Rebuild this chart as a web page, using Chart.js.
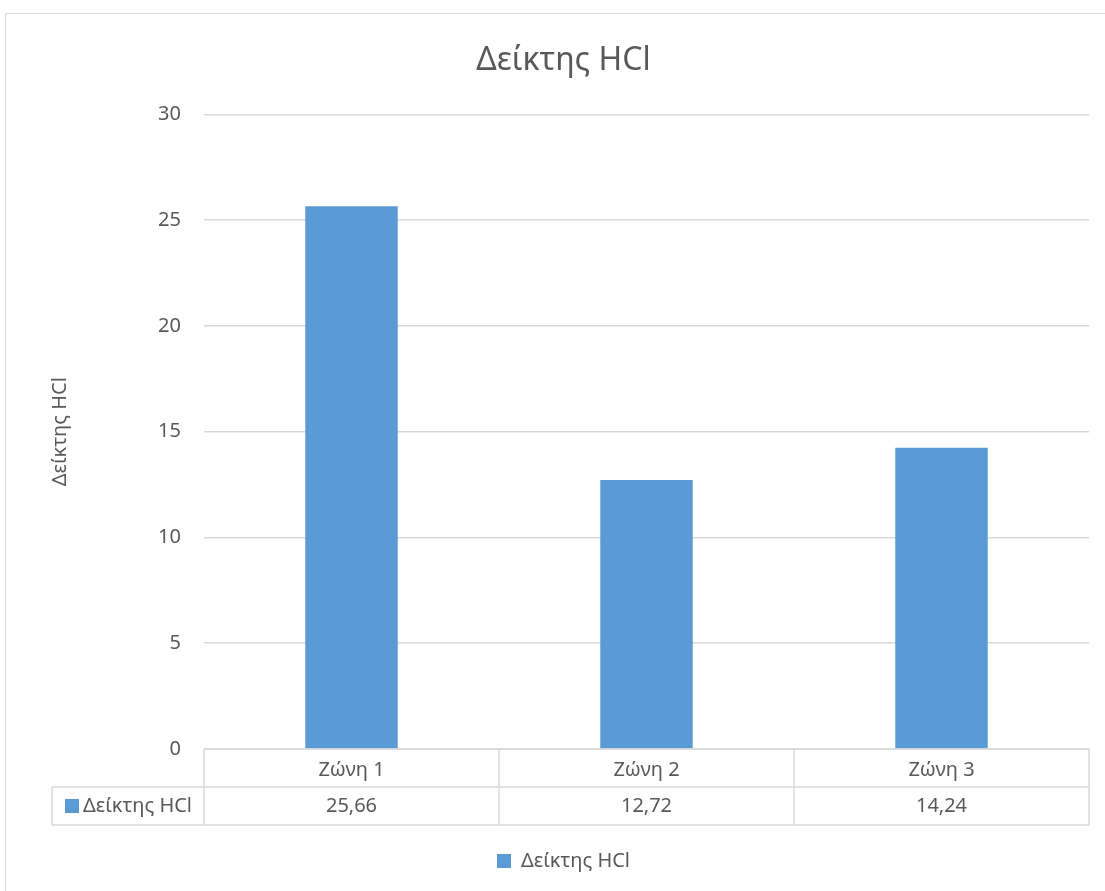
<!DOCTYPE html>
<html>
<head>
<meta charset="utf-8">
<script src="https://cdn.jsdelivr.net/npm/chart.js@4/dist/chart.umd.min.js"></script>
<style>
  html, body { margin: 0; padding: 0; background: #fff; overflow: hidden; }
  #frame {
    position: absolute; left: 5px; top: 13px;
    width: 1125px; height: 900px;
    border: 1px solid #d9d9d9; background: #fff;
  }
  #c { display: block; }
</style>
</head>
<body>
<div id="frame"><canvas id="c" width="1125" height="877"></canvas></div>
<script>
const categories = ['Ζώνη 1', 'Ζώνη 2', 'Ζώνη 3'];
const seriesName = 'Δείκτης HCl';
const seriesValues = [25.66, 12.72, 14.24];
const tickValues = [0, 5, 10, 15, 20, 25, 30];

const FONT = '"Noto Sans", "Open Sans", sans-serif';
const TEXT = '#595959';
const LINE = '#d9d9d9';
const BAR = '#5b9bd5';
const ROW_H = 38;
const LABEL_COL_LEFT = 46;

const fmt = v => v.toFixed(2).replace('.', ',');

// Data table under the plot: category row, then the series row with its key.
const dataTable = {
  id: 'dataTable',
  afterDraw(chart) {
    const { ctx, chartArea } = chart;
    const xs = chart.scales.x;
    const n = categories.length;
    const step = n > 1 ? xs.getPixelForValue(1) - xs.getPixelForValue(0) : chartArea.right - chartArea.left;
    const left = xs.getPixelForValue(0) - step / 2;
    const right = xs.getPixelForValue(n - 1) + step / 2;
    const top = chartArea.bottom;
    const mid = top + ROW_H;
    const bot = top + 2 * ROW_H;

    ctx.save();
    ctx.strokeStyle = LINE;
    ctx.lineWidth = 1.5;
    ctx.beginPath();
    ctx.moveTo(left, top); ctx.lineTo(right, top);
    ctx.moveTo(LABEL_COL_LEFT, mid); ctx.lineTo(right, mid);
    ctx.moveTo(LABEL_COL_LEFT, bot); ctx.lineTo(right, bot);
    for (let i = 0; i <= n; i++) {
      const x = left + i * step;
      ctx.moveTo(x, top); ctx.lineTo(x, bot);
    }
    ctx.moveTo(LABEL_COL_LEFT, mid); ctx.lineTo(LABEL_COL_LEFT, bot);
    ctx.stroke();

    ctx.fillStyle = TEXT;
    ctx.font = '20px ' + FONT;
    ctx.textAlign = 'center';
    ctx.textBaseline = 'middle';
    categories.forEach((c, i) => {
      const x = xs.getPixelForValue(i);
      ctx.fillText(c, x, top + ROW_H / 2 + 2);
      ctx.fillText(fmt(seriesValues[i]), x, mid + ROW_H / 2);
    });

    // series key
    const keyX = LABEL_COL_LEFT + 13;
    const keyY = mid + ROW_H / 2;
    ctx.fillStyle = BAR;
    ctx.fillRect(keyX, keyY - 7, 14, 14);
    ctx.fillStyle = TEXT;
    ctx.textAlign = 'left';
    ctx.fillText(seriesName, keyX + 18, keyY);
    ctx.restore();
  }
};

new Chart(document.getElementById('c'), {
  type: 'bar',
  data: {
    labels: categories,
    datasets: [{
      label: seriesName,
      data: seriesValues,
      backgroundColor: BAR,
      borderWidth: 0,
      categoryPercentage: 1,
      barPercentage: 0.3135
    }]
  },
  options: {
    responsive: false,
    animation: false,
    layout: { padding: { left: 32, right: 42, top: 0, bottom: 10 } },
    plugins: {
      title: {
        display: true,
        text: seriesName,
        color: TEXT,
        font: { family: FONT, size: 32, weight: 'normal' },
        padding: { top: 28, bottom: 34 }
      },
      legend: {
        display: true,
        position: 'bottom',
        labels: {
          color: TEXT,
          font: { family: FONT, size: 20 },
          boxWidth: 14,
          boxHeight: 14,
          padding: 10
        }
      },
      tooltip: { enabled: false }
    },
    scales: {
      x: {
        ticks: { display: false },
        grid: { display: false },
        border: { display: false },
        afterFit(scale) { scale.height = 2 * ROW_H + 16; }
      },
      y: {
        min: 0,
        max: 30,
        afterBuildTicks(scale) { scale.ticks = tickValues.map(v => ({ value: v })); },
        ticks: {
          color: TEXT,
          font: { family: FONT, size: 20 },
          padding: 23
        },
        grid: { color: LINE, lineWidth: 1.5, drawTicks: false },
        border: { display: false },
        title: {
          display: true,
          text: seriesName,
          color: TEXT,
          font: { family: FONT, size: 20 },
          padding: { top: 10, bottom: 0 }
        },
        afterFit(scale) { scale.width = 166; }
      }
    }
  },
  plugins: [dataTable]
});
</script>
</body>
</html>
